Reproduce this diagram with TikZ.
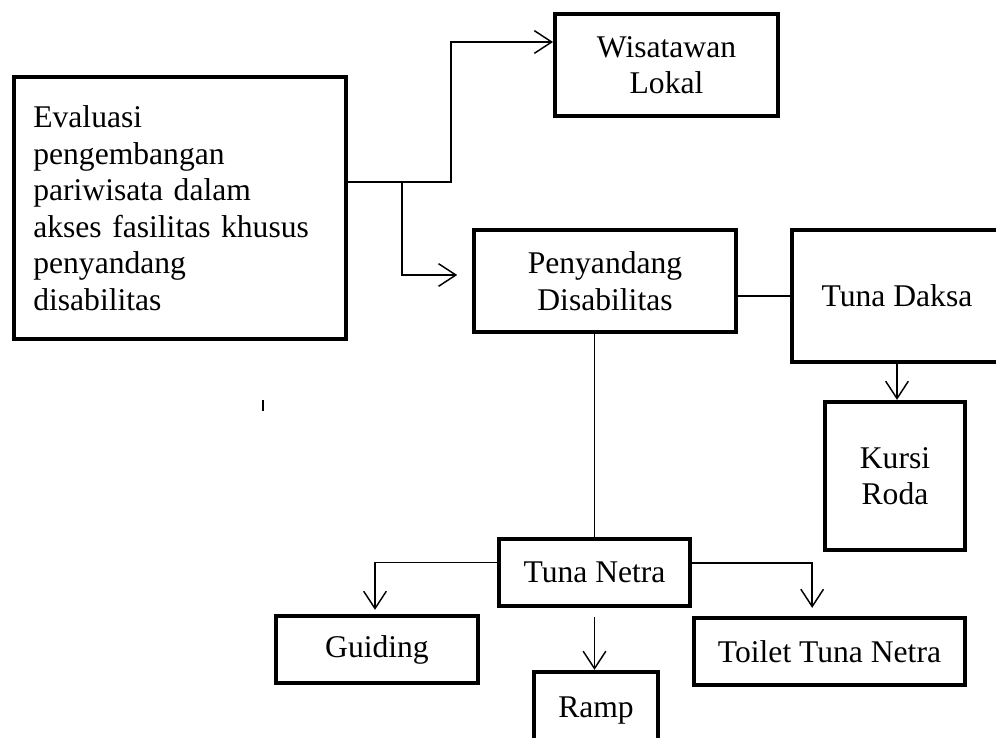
\documentclass[tikz,border=0pt]{standalone}
\usepackage{fontspec}
\setmainfont{Liberation Serif}
\usepackage{tikz}
\usetikzlibrary{positioning, arrows.meta}

\begin{document}
\begin{tikzpicture}[x=0.75pt, y=-0.75pt,
    every node/.style={font=\fontsize{23.7}{27.4}\selectfont},
    box/.style={draw, rectangle, line width=3.2pt, align=center, inner sep=0pt},
    conn/.style={line width=1.1pt, >={Straight Barb[length=13pt, width=17pt]}}]
    \clip (0,0) rectangle (996,738);

    % Evaluation box (left)
    \node [box, align=left, text width=220pt, inner xsep=14.25pt, minimum width=249pt, minimum height=196.5pt] (eval) at (180,208) {
        Evaluasi\\ pengembangan\\ pariwisata dalam\\ akses fasilitas khusus\\ penyandang\\ disabilitas
    };

    % Tourist groups
    \node [box, minimum width=167pt, minimum height=76.5pt] (lokal) at (666.5,65) {Wisatawan\\ Lokal};
    \node [box, minimum width=196.5pt, minimum height=76.5pt] (disab) at (605,281) {Penyandang\\ Disabilitas};

    % Physical disability branch
    \node [box, minimum width=157.5pt, minimum height=99pt] (daksa) at (897,296) {Tuna Daksa};
    \node [box, minimum width=105pt, minimum height=111pt] (kursi) at (895,476) {Kursi\\ Roda};

    % Visual disability branch
    \node [box, minimum width=143.25pt, minimum height=50.25pt] (netra) at (594.5,572.5) {Tuna Netra};
    \node [box, minimum width=151.5pt, minimum height=50.25pt] (guide) at (377,649.5) {Guiding};
    \node [box, minimum width=93pt, minimum height=58.5pt] (ramp) at (596,711) {Ramp};
    \node [box, minimum width=203.25pt, minimum height=50.25pt] (toilet) at (829.5,651.5) {Toilet Tuna Netra};

    % Connectors
    \coordinate (split) at (402,182);
    \coordinate (bend) at (451,182);
    \draw [conn] (eval.east |- split) -- (split);
    \draw [conn, ->] (split) -- (bend) |- ([yshift=17.25pt]lokal.west);
    \draw [conn, ->, shorten >=11pt] (split) |- ([yshift=4.5pt]disab.west);
    \draw [conn] (daksa.west) -- (daksa.west -| disab.east);
    \draw [conn, ->] (daksa.south) -- (daksa.south |- kursi.north);
    \draw [conn] (disab.south -| netra.north) -- (netra.north);
    \draw [conn, ->, shorten >=3pt] ([yshift=7.5pt]netra.west) -| ([xshift=-1.5pt]guide.north);
    \draw [conn, ->, shorten <=6.75pt] (netra.south) -- (netra.south |- ramp.north);
    \draw [conn, ->, shorten >=6pt] ([yshift=7pt]netra.east) -| ([xshift=-13pt]toilet.north);

    % stray mark
    \draw [line width=1.5pt] (263,400) -- (263,411);
\end{tikzpicture}
\end{document}
